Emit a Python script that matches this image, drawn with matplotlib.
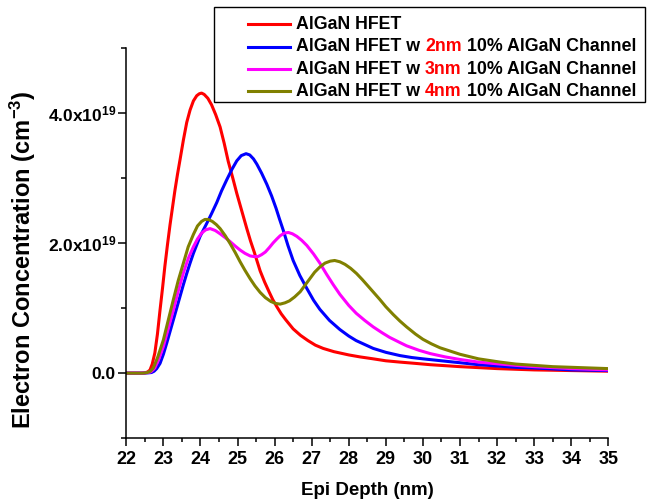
import numpy as np
import matplotlib
matplotlib.use('Agg')
import matplotlib.pyplot as plt
from matplotlib.ticker import MultipleLocator
from matplotlib.lines import Line2D
from matplotlib.offsetbox import AnchoredOffsetbox, DrawingArea, HPacker, TextArea, VPacker

plt.rcParams['font.family'] = ['Liberation Sans', 'DejaVu Sans']
plt.rcParams['font.weight'] = 'bold'
plt.rcParams['mathtext.default'] = 'regular'

# Electron concentration vs. depth, concentration in units of 1e19 cm^-3
depth_hfet = [22.0, 22.40, 22.50, 22.58, 22.64, 22.70, 22.77, 22.84, 22.91, 22.98, 23.04, 23.11,
              23.18, 23.25, 23.31, 23.38, 23.45, 23.54, 23.63, 23.72, 23.81, 23.90, 23.97, 24.03,
              24.10, 24.20, 24.30, 24.41, 24.53, 24.64, 24.75, 24.87, 24.98, 25.11, 25.25, 25.35,
              25.45, 25.61, 25.73, 25.85, 25.95, 26.06, 26.18, 26.30, 26.50, 26.70, 26.90, 27.10,
              27.31, 27.60, 28.0, 28.30, 28.66, 29.0, 29.38, 29.8, 30.2, 30.6, 31.0, 31.5,
              32.0, 32.5, 33.0, 34.0, 35.0]
conc_hfet = [0.0, 0.0, 0.005, 0.02, 0.05, 0.14, 0.31, 0.60, 0.97, 1.32, 1.64, 1.97,
             2.28, 2.56, 2.80, 3.05, 3.28, 3.58, 3.85, 4.04, 4.18, 4.26, 4.29, 4.30,
             4.28, 4.22, 4.12, 3.97, 3.78, 3.53, 3.25, 3.00, 2.76, 2.50, 2.22, 2.03,
             1.86, 1.57, 1.40, 1.25, 1.13, 1.02, 0.91, 0.82, 0.68, 0.58, 0.50, 0.43,
             0.38, 0.33, 0.28, 0.25, 0.22, 0.19, 0.17, 0.15, 0.13, 0.115, 0.10, 0.085,
             0.07, 0.06, 0.05, 0.04, 0.03]

depth_2nm = [22.0, 22.45, 22.60, 22.68, 22.75, 22.82, 22.91, 23.00, 23.09, 23.18, 23.27, 23.36,
             23.45, 23.54, 23.63, 23.72, 23.81, 23.90, 23.99, 24.08, 24.17, 24.30, 24.44, 24.57,
             24.71, 24.85, 24.98, 25.10, 25.23, 25.33, 25.43, 25.52, 25.65, 25.79, 25.92, 26.04,
             26.13, 26.23, 26.36, 26.50, 26.68, 26.87, 27.05, 27.22, 27.48, 27.76, 28.0, 28.2,
             28.43, 28.66, 29.0, 29.38, 29.7, 30.0, 30.5, 31.0, 31.5, 32.0, 32.5, 33.0,
             34.0, 35.0]
conc_2nm = [0.0, 0.0, 0.005, 0.01, 0.03, 0.07, 0.15, 0.29, 0.46, 0.64, 0.82, 1.00,
            1.18, 1.36, 1.53, 1.69, 1.84, 1.97, 2.10, 2.20, 2.30, 2.45, 2.62, 2.80,
            2.97, 3.13, 3.26, 3.34, 3.37, 3.35, 3.29, 3.21, 3.07, 2.90, 2.72, 2.53,
            2.37, 2.20, 1.96, 1.73, 1.50, 1.30, 1.12, 0.98, 0.81, 0.67, 0.57, 0.50,
            0.44, 0.38, 0.32, 0.27, 0.24, 0.22, 0.19, 0.16, 0.13, 0.11, 0.09, 0.08,
            0.05, 0.04]

depth_3nm = [22.0, 22.45, 22.58, 22.66, 22.72, 22.77, 22.88, 23.00, 23.13, 23.27, 23.40, 23.54,
             23.67, 23.81, 23.92, 24.03, 24.14, 24.26, 24.40, 24.53, 24.67, 24.80, 24.94, 25.07,
             25.20, 25.34, 25.45, 25.55, 25.65, 25.75, 25.86, 25.96, 26.06, 26.15, 26.26, 26.37,
             26.48, 26.60, 26.73, 26.87, 27.05, 27.22, 27.40, 27.58, 27.76, 28.0, 28.2, 28.43,
             28.66, 28.9, 29.1, 29.38, 29.56, 29.9, 30.2, 30.6, 31.0, 31.5, 32.08, 32.5,
             33.0, 34.0, 35.0]
conc_3nm = [0.0, 0.0, 0.01, 0.02, 0.05, 0.08, 0.22, 0.41, 0.68, 0.97, 1.26, 1.54,
            1.76, 1.94, 2.06, 2.15, 2.20, 2.22, 2.19, 2.14, 2.08, 2.02, 1.95, 1.89,
            1.84, 1.80, 1.79, 1.79, 1.82, 1.86, 1.93, 2.00, 2.06, 2.11, 2.15, 2.16,
            2.14, 2.10, 2.04, 1.96, 1.83, 1.69, 1.52, 1.36, 1.21, 1.04, 0.92, 0.81,
            0.71, 0.62, 0.55, 0.47, 0.42, 0.35, 0.30, 0.25, 0.21, 0.17, 0.14, 0.12,
            0.10, 0.07, 0.05]

depth_4nm = [22.0, 22.45, 22.57, 22.65, 22.73, 22.85, 23.00, 23.13, 23.27, 23.40, 23.54, 23.67,
             23.81, 23.92, 24.03, 24.12, 24.21, 24.32, 24.43, 24.53, 24.67, 24.80, 24.94, 25.07,
             25.20, 25.34, 25.47, 25.61, 25.75, 25.90, 26.03, 26.15, 26.28, 26.40, 26.54, 26.69,
             26.82, 26.95, 27.08, 27.22, 27.36, 27.50, 27.62, 27.76, 27.90, 28.05, 28.21, 28.36,
             28.50, 28.67, 28.84, 29.0, 29.2, 29.38, 29.56, 29.8, 30.0, 30.23, 30.46, 30.73,
             31.0, 31.5, 32.08, 32.5, 33.0, 33.5, 34.0, 34.5, 35.0]
conc_4nm = [0.0, 0.0, 0.01, 0.03, 0.08, 0.25, 0.51, 0.81, 1.13, 1.42, 1.69, 1.94,
            2.13, 2.26, 2.33, 2.36, 2.36, 2.33, 2.28, 2.22, 2.11, 1.99, 1.85, 1.71,
            1.58, 1.45, 1.34, 1.24, 1.16, 1.10, 1.07, 1.06, 1.08, 1.11, 1.17, 1.25,
            1.35, 1.45, 1.55, 1.63, 1.69, 1.72, 1.73, 1.71, 1.67, 1.61, 1.53, 1.44,
            1.35, 1.24, 1.13, 1.02, 0.90, 0.80, 0.71, 0.60, 0.52, 0.45, 0.39, 0.34,
            0.29, 0.22, 0.17, 0.14, 0.12, 0.10, 0.09, 0.08, 0.07]

series = [
    (depth_hfet, conc_hfet, '#ff0000', ['AlGaN HFET']),
    (depth_2nm, conc_2nm, '#0000ff', ['AlGaN HFET w', '2nm', '10% AlGaN Channel']),
    (depth_3nm, conc_3nm, '#ff00ff', ['AlGaN HFET w', '3nm', '10% AlGaN Channel']),
    (depth_4nm, conc_4nm, '#808000', ['AlGaN HFET w', '4nm', '10% AlGaN Channel']),
]

fig = plt.figure(figsize=(6.47, 5.0), dpi=100)
ax = fig.add_axes([0.1952, 0.1234, 0.7450, 0.7816])

for x, c, col, _ in series:
    ax.plot(x, np.array(c) * 1e19, color=col, lw=2.2, solid_joinstyle='round')

ax.set_xlim(22, 35)
ax.set_ylim(-1e19, 5e19)
ax.xaxis.set_major_locator(MultipleLocator(1))
ax.xaxis.set_minor_locator(MultipleLocator(0.5))
ax.yaxis.set_minor_locator(MultipleLocator(1e19))
ax.set_yticks([0, 2e19, 4e19])
ax.set_yticklabels(['0.0', '2.0x10$^{19}$', '4.0x10$^{19}$'])

for s in ['top', 'right']:
    ax.spines[s].set_visible(False)
for s in ['left', 'bottom']:
    ax.spines[s].set_linewidth(1.1)

ax.tick_params(axis='x', which='major', direction='out', length=5.5, width=1.1, labelsize=13, pad=4)
ax.tick_params(axis='x', which='minor', direction='out', length=3, width=1.1)
ax.tick_params(axis='y', which='major', direction='out', length=5.5, width=1.1, labelsize=12.5, pad=2)
ax.tick_params(axis='y', which='minor', direction='out', length=3.5, width=1.1)

ax.set_xlabel('Epi Depth (nm)', fontsize=13.5, fontweight='bold', labelpad=10)
ax.set_ylabel('Electron Concentration (cm$^{-3}$)', fontsize=17, fontweight='bold')
ax.yaxis.set_label_coords(-0.183, 0.456)

# legend built by hand so the layer thickness can be coloured red
PT = 0.72  # points per pixel at 100 dpi
rows = []
for _, _, col, parts in series:
    da = DrawingArea(42 * PT, 10, 0, 0)
    da.add_artist(Line2D([0, 42 * PT], [5, 5], color=col, lw=2.2))
    boxes = []
    for i, p in enumerate(parts):
        tcol = 'red' if (len(parts) == 3 and i == 1) else 'black'
        boxes.append(TextArea(p, textprops=dict(color=tcol, fontsize=12.8, fontweight='bold')))
    label = HPacker(children=boxes, align='baseline', pad=0, sep=3.5)
    rows.append(HPacker(children=[da, label], align='center', pad=0, sep=6 * PT))

body = VPacker(children=rows, align='left', pad=0, sep=5.4 * PT)
body = VPacker(children=[DrawingArea(1, 8.7 * PT), body, DrawingArea(1, 2.2 * PT)],
               align='left', pad=0, sep=0)
body = HPacker(children=[DrawingArea(34 * PT, 1), body, DrawingArea(9 * PT, 1)],
               align='top', pad=0, sep=0)

leg = AnchoredOffsetbox(loc='upper right', child=body, pad=0, borderpad=0, frameon=True,
                        bbox_to_anchor=(645 / 647, 1 - 7 / 500), bbox_transform=fig.transFigure)
leg.patch.set_edgecolor('black')
leg.patch.set_linewidth(1.0)
leg.patch.set_boxstyle('square', pad=0)
fig.add_artist(leg)

fig.savefig('out.png', dpi=100)
